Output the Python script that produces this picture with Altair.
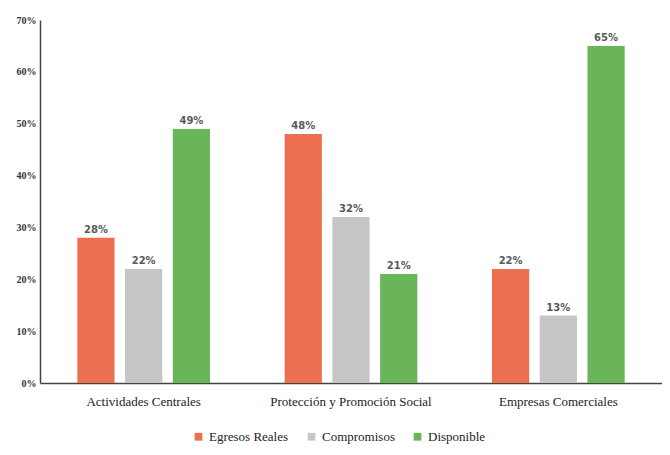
import altair as alt
import pandas as pd

categories = ["Actividades Centrales", "Protección y Promoción Social", "Empresas Comerciales"]
series = ["Egresos Reales", "Compromisos", "Disponible"]
egresos = [0.28, 0.48, 0.22]
compromisos = [0.22, 0.32, 0.13]
disponible = [0.49, 0.21, 0.65]
colors = ["#EE6E50", "#C6C6C6", "#6AB45A"]

rows = []
for i, c in enumerate(categories):
    for s, vals in zip(series, [egresos, compromisos, disponible]):
        rows.append({"cat": c, "serie": s, "val": vals[i]})
df = pd.DataFrame(rows)

SERIF = "Liberation Serif"

x = alt.X("cat:N", sort=categories, title=None,
          scale=alt.Scale(paddingInner=0.36, paddingOuter=0.18),
          axis=alt.Axis(labelAngle=0, labelFont=SERIF, labelFontSize=13,
                        labelColor="#222", labelPadding=12, ticks=False,
                        domainColor="#444", domainWidth=1.5))
xo = alt.XOffset("serie:N", sort=series, scale=alt.Scale(paddingInner=0.22))
y = alt.Y("val:Q", title=None,
          scale=alt.Scale(domain=[0, 0.7]),
          axis=alt.Axis(format=".0%", values=[0, 0.1, 0.2, 0.3, 0.4, 0.5, 0.6, 0.7],
                        grid=False, ticks=False, labelFont=SERIF,
                        labelFontSize=10, labelFontWeight="bold", labelColor="#333",
                        labelPadding=4, domainColor="#444", domainWidth=1.5))

base = alt.Chart(df).encode(x=x, xOffset=xo, y=y)

bars = base.mark_bar().encode(
    color=alt.Color("serie:N", sort=series,
                    scale=alt.Scale(domain=series, range=colors),
                    legend=alt.Legend(title=None, orient="none", direction="horizontal",
                                      legendX=152, legendY=410,
                                      symbolType="square", symbolSize=60,
                                      labelFont=SERIF, labelFontSize=13,
                                      labelColor="#222", columnPadding=16))
)
labels = base.mark_text(dy=-8, font="DejaVu Sans", fontSize=10, fontWeight="bold",
                        color="#5a5a5a").encode(text=alt.Text("val:Q", format=".0%"))

chart = (bars + labels).properties(
    width=622, height=363,
    padding={"left": 8, "top": 7, "right": 0, "bottom": 0},
).configure_view(stroke=None).configure_legend(labelFont=SERIF, labelFontSize=13)

chart.save("out.html", embed_options={"renderer": "svg", "actions": False})
